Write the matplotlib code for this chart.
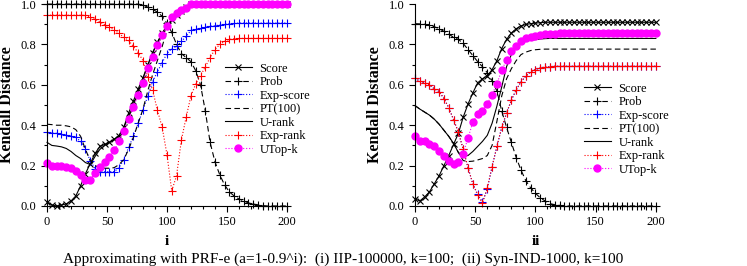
import numpy as np
import matplotlib
matplotlib.use("Agg")
import matplotlib.pyplot as plt
from matplotlib.ticker import MultipleLocator, FormatStrFormatter

plt.rcParams['font.family'] = ['Liberation Serif', 'DejaVu Serif']

# x positions of the sampled points
xs = np.arange(0, 201, 4)

# ---- panel (i): IIP-100000, k=100 ----
L_score = [0.02, 0.005, 0.0, 0.005, 0.01, 0.025, 0.05, 0.10, 0.16, 0.21,
           0.26, 0.295, 0.305, 0.315, 0.33, 0.345, 0.39, 0.46, 0.52, 0.58,
           0.635, 0.70, 0.76, 0.81, 0.855, 0.895, 0.92, 0.945, 0.965, 0.985] + [1.0] * 21
L_prob = [1.0] * 20 + [0.995, 0.985, 0.975, 0.96, 0.94, 0.905, 0.86, 0.80, 0.755, 0.735,
                       0.715, 0.67, 0.60, 0.47, 0.315, 0.22, 0.155, 0.105, 0.07, 0.05,
                       0.035, 0.025, 0.015, 0.01, 0.005, 0.002] + [0.0] * 5
L_expscore = [0.365, 0.36, 0.36, 0.355, 0.35, 0.345, 0.34, 0.32, 0.28, 0.225,
              0.185, 0.17, 0.17, 0.17, 0.17, 0.19, 0.23, 0.29, 0.345, 0.41,
              0.475, 0.545, 0.615, 0.665, 0.71, 0.755, 0.78, 0.79, 0.815, 0.84,
              0.87, 0.875, 0.88, 0.885, 0.89, 0.893, 0.896, 0.9, 0.902, 0.904] + [0.906] * 11
L_pt = [0.405, 0.403, 0.40, 0.40, 0.397, 0.392, 0.378, 0.345, 0.28, 0.225,
        0.20, 0.19, 0.187, 0.187, 0.19, 0.205, 0.23, 0.28, 0.34, 0.41,
        0.48, 0.57, 0.65, 0.72, 0.79, 0.87, 0.92, 0.955, 0.975, 0.99] + [1.0] * 21
L_urank = [0.315, 0.30, 0.297, 0.293, 0.285, 0.27, 0.25, 0.235, 0.215, 0.205,
           0.245, 0.28, 0.30, 0.315, 0.33, 0.35, 0.39, 0.44, 0.50, 0.565,
           0.63, 0.695, 0.755, 0.81, 0.855, 0.89, 0.925, 0.955, 0.975, 0.99] + [1.0] * 21
L_exprank = [0.945] * 8 + [0.945, 0.935, 0.925, 0.912, 0.898, 0.885, 0.872, 0.855, 0.835, 0.82,
                           0.79, 0.76, 0.72, 0.64, 0.575, 0.475, 0.39, 0.255, 0.075, 0.15,
                           0.325, 0.44, 0.545, 0.605, 0.645, 0.69, 0.735, 0.775, 0.80, 0.815,
                           0.825, 0.828] + [0.83] * 11
L_utopk = [0.215, 0.198, 0.198, 0.197, 0.195, 0.187, 0.172, 0.155, 0.127, 0.127,
           0.165, 0.195, 0.22, 0.245, 0.275, 0.32, 0.37, 0.43, 0.49, 0.55,
           0.61, 0.685, 0.74, 0.795, 0.845, 0.89, 0.935, 0.955, 0.97, 0.98] + [1.0] * 21

# ---- panel (ii): Syn-IND-1000, k=100 ----
R_score = [0.035, 0.025, 0.045, 0.07, 0.11, 0.15, 0.20, 0.25, 0.305, 0.36,
           0.44, 0.505, 0.56, 0.61, 0.63, 0.645, 0.675, 0.72, 0.78, 0.825,
           0.857, 0.878, 0.892, 0.899, 0.903, 0.906, 0.908] + [0.91] * 24
R_prob = [0.903, 0.902, 0.90, 0.895, 0.888, 0.878, 0.865, 0.852, 0.835, 0.825,
          0.805, 0.775, 0.745, 0.715, 0.69, 0.66, 0.62, 0.57, 0.47, 0.39,
          0.315, 0.24, 0.178, 0.125, 0.09, 0.063, 0.04, 0.025, 0.012, 0.006,
          0.003] + [0.0] * 20
R_expscore = [0.634, 0.617, 0.609, 0.60, 0.58, 0.567, 0.532, 0.487, 0.427, 0.366,
              0.28, 0.19, 0.11, 0.058, 0.02, 0.085, 0.195, 0.295, 0.389, 0.46,
              0.525, 0.575, 0.615, 0.643, 0.664, 0.676, 0.684, 0.688, 0.69] + [0.692] * 22
R_exprank = [0.634, 0.617, 0.609, 0.60, 0.58, 0.567, 0.532, 0.487, 0.427, 0.366,
             0.28, 0.19, 0.11, 0.053, 0.013, 0.088, 0.195, 0.295, 0.389, 0.46,
             0.525, 0.575, 0.615, 0.643, 0.664, 0.676, 0.684, 0.688, 0.69] + [0.692] * 22
R_urank = [0.497, 0.48, 0.465, 0.45, 0.43, 0.405, 0.375, 0.345, 0.31, 0.265,
           0.248, 0.25, 0.27, 0.295, 0.32, 0.35, 0.41, 0.495, 0.59, 0.69,
           0.75, 0.79, 0.808, 0.816, 0.821, 0.824, 0.827, 0.829] + [0.83] * 23
R_pt = [0.497, 0.48, 0.465, 0.45, 0.43, 0.405, 0.375, 0.345, 0.31, 0.265,
        0.225, 0.22, 0.222, 0.228, 0.235, 0.25, 0.30, 0.42, 0.545, 0.63,
        0.68, 0.72, 0.75, 0.762, 0.77, 0.774, 0.776] + [0.777] * 24
R_utopk = [0.345, 0.323, 0.32, 0.307, 0.295, 0.274, 0.246, 0.221, 0.208, 0.216,
           0.259, 0.337, 0.414, 0.457, 0.472, 0.507, 0.551, 0.606, 0.672, 0.724,
           0.766, 0.79, 0.815, 0.83, 0.838, 0.843, 0.847, 0.85, 0.852, 0.853] + [0.855] * 21

labels = ["Score", "Prob", "Exp-score", "PT(100)", "U-rank", "Exp-rank", "UTop-k"]


def draw_panel(ax, score, prob, expscore, pt, urank, exprank, utopk):
    lw = 0.8
    ax.plot(xs, score, '-', color='black', lw=lw, marker='x', ms=4.5, mew=0.8, clip_on=False)
    ax.plot(xs, prob, '--', color='black', lw=lw, marker='+', ms=6, mew=0.8,
            dashes=(5, 3), clip_on=False)
    ax.plot(xs, expscore, ':', color='blue', lw=lw, marker='+', ms=6, mew=0.8, clip_on=False)
    ax.plot(xs, pt, '--', color='black', lw=lw, dashes=(5, 3), clip_on=False)
    ax.plot(xs, urank, '-', color='black', lw=lw, clip_on=False)
    ax.plot(xs, exprank, ':', color='red', lw=lw, marker='+', ms=6, mew=0.8, clip_on=False)
    ax.plot(xs, utopk, ':', color='magenta', lw=lw, marker='o', ms=5, mec='magenta',
            mfc='magenta', clip_on=False)
    ax.set_xlim(0, 200)
    ax.set_ylim(0, 1.0)
    ax.spines['top'].set_visible(False)
    ax.spines['right'].set_visible(False)
    ax.xaxis.set_major_locator(MultipleLocator(50))
    ax.xaxis.set_minor_locator(MultipleLocator(10))
    ax.yaxis.set_major_locator(MultipleLocator(0.2))
    ax.yaxis.set_minor_locator(MultipleLocator(0.1))
    ax.yaxis.set_major_formatter(FormatStrFormatter('%.1f'))
    ax.tick_params(which='both', direction='out', labelsize=9, width=0.8)
    ax.tick_params(which='major', length=4)
    ax.tick_params(which='minor', length=2)
    ax.set_ylabel('Kendall Distance', fontsize=11.5, fontweight='bold')


fig = plt.figure(figsize=(7.47, 2.66), dpi=100)
ax1 = fig.add_axes([0.063, 0.2256, 0.321, 0.759])
ax2 = fig.add_axes([0.5556, 0.2256, 0.3224, 0.759])

draw_panel(ax1, L_score, L_prob, L_expscore, L_pt, L_urank, L_exprank, L_utopk)
draw_panel(ax2, R_score, R_prob, R_expscore, R_pt, R_urank, R_exprank, R_utopk)

ax1.set_xlabel('i', fontsize=11, fontweight='bold', labelpad=5)
ax2.set_xlabel('ii', fontsize=11, fontweight='bold', labelpad=5)

leg_kw = dict(loc='upper left', frameon=False, fontsize=9, handlelength=2.2,
              handletextpad=0.6, labelspacing=0.12, borderaxespad=0, borderpad=0)
ax1.legend(labels, bbox_to_anchor=(0.74, 0.71), **leg_kw)
ax2.legend(labels, bbox_to_anchor=(0.70, 0.61), **leg_kw)

fig.text(0.459, 0.012, "Approximating with PRF-e (a=1-0.9^i):  (i) IIP-100000, k=100;  "
         "(ii) Syn-IND-1000, k=100", ha='center', fontsize=11)

fig.savefig('out.png', dpi=100)
